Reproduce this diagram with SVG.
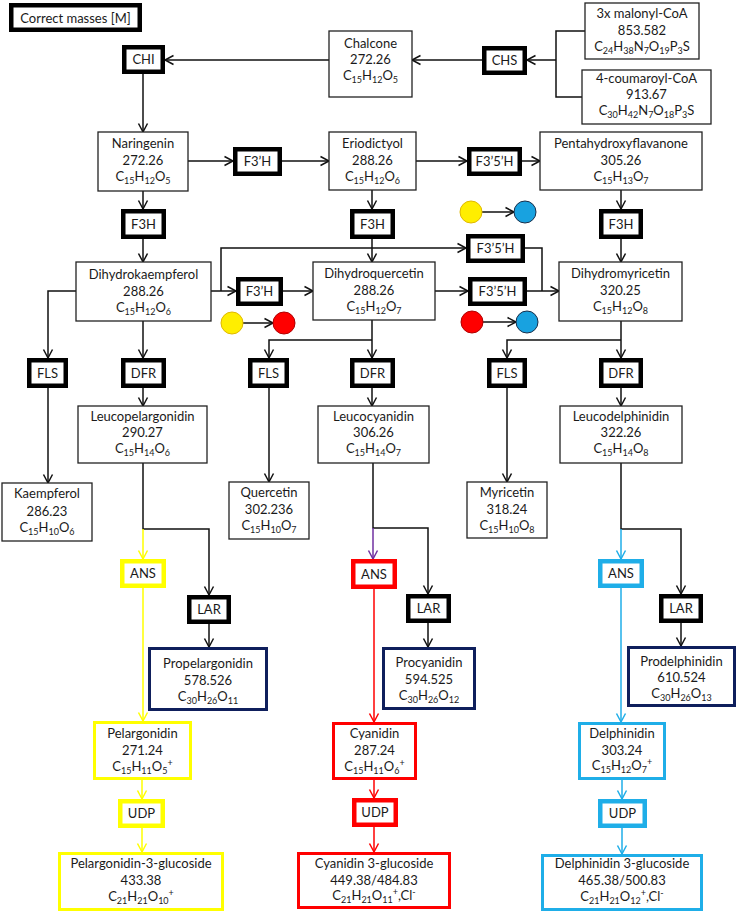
<svg xmlns="http://www.w3.org/2000/svg" width="738" height="914" viewBox="0 0 738 914">
<style>
.box{fill:#fff;stroke:#222;stroke-width:1.3}
.enz{fill:#fff;stroke:#000;stroke-width:4.5}
.t{font-family:Lato,"Open Sans",sans-serif;font-size:13px;fill:#1a1a1a;text-anchor:middle}
.s{font-size:9px}
.c{fill:none;stroke:#111;stroke-width:1.5}
.cy{fill:none;stroke:#FFFF00;stroke-width:1.5}
.cr{fill:none;stroke:#FF0000;stroke-width:1.5}
.cb{fill:none;stroke:#1FAEE8;stroke-width:1.5}
.cp{fill:none;stroke:#7030A0;stroke-width:1.5}
.yb{fill:#fff;stroke:#FFFF00}
.rb{fill:#fff;stroke:#FF0000}
.bb{fill:#fff;stroke:#1FAEE8}
.nb{fill:#fff;stroke:#0F1F5C;stroke-width:3}
.cyc{fill:#FFEE00;stroke:#E0B800;stroke-width:1}
.crc{fill:#FF0000;stroke:#B00000;stroke-width:1}
.cbc{fill:#18A2E0;stroke:#1A2F4A;stroke-width:1}
</style>
<defs>
<marker id="ak" markerWidth="12" markerHeight="12" refX="10" refY="6" orient="auto" markerUnits="userSpaceOnUse"><path d="M1.5,1.5 L10,6 L1.5,10.5" fill="none" stroke="#111" stroke-width="1.5"/></marker>
<marker id="ay" markerWidth="12" markerHeight="12" refX="10" refY="6" orient="auto" markerUnits="userSpaceOnUse"><path d="M1.5,1.5 L10,6 L1.5,10.5" fill="none" stroke="#FFFF00" stroke-width="1.5"/></marker>
<marker id="ar" markerWidth="12" markerHeight="12" refX="10" refY="6" orient="auto" markerUnits="userSpaceOnUse"><path d="M1.5,1.5 L10,6 L1.5,10.5" fill="none" stroke="#FF0000" stroke-width="1.5"/></marker>
<marker id="ab" markerWidth="12" markerHeight="12" refX="10" refY="6" orient="auto" markerUnits="userSpaceOnUse"><path d="M1.5,1.5 L10,6 L1.5,10.5" fill="none" stroke="#1FAEE8" stroke-width="1.5"/></marker>
<marker id="ap" markerWidth="12" markerHeight="12" refX="10" refY="6" orient="auto" markerUnits="userSpaceOnUse"><path d="M1.5,1.5 L10,6 L1.5,10.5" fill="none" stroke="#7030A0" stroke-width="1.5"/></marker>
</defs>

<g id="connectors">
<path class="c" d="M329,60 H165" marker-end="url(#ak)"/>
<path class="c" d="M482,60 H412" marker-end="url(#ak)"/>
<path class="c" d="M585,31 H556 V97 H582"/>
<path class="c" d="M556,60 H527" marker-end="url(#ak)"/>
<path class="c" d="M143,74 V132" marker-end="url(#ak)"/>
<path class="c" d="M188,161 H233" marker-end="url(#ak)"/>
<path class="c" d="M282,161 H329" marker-end="url(#ak)"/>
<path class="c" d="M416,161 H467" marker-end="url(#ak)"/>
<path class="c" d="M522,161 H540" marker-end="url(#ak)"/>
<path class="c" d="M143,191 V209" marker-end="url(#ak)"/>
<path class="c" d="M143,239 V262" marker-end="url(#ak)"/>
<path class="c" d="M372,190 V209" marker-end="url(#ak)"/>
<path class="c" d="M372,239 V262" marker-end="url(#ak)"/>
<path class="c" d="M621,190 V209" marker-end="url(#ak)"/>
<path class="c" d="M621,239 V262" marker-end="url(#ak)"/>
<path class="c" d="M211,291 H236" marker-end="url(#ak)"/>
<path class="c" d="M221,291 V248 H466" marker-end="url(#ak)"/>
<path class="c" d="M283,291 H313" marker-end="url(#ak)"/>
<path class="c" d="M435,291 H468" marker-end="url(#ak)"/>
<path class="c" d="M527,291 H559" marker-end="url(#ak)"/>
<path class="c" d="M525,248 H542 V291"/>
<path class="c" d="M76,291 H48 V358" marker-end="url(#ak)"/>
<path class="c" d="M143,321 V358" marker-end="url(#ak)"/>
<path class="c" d="M372,320 V358" marker-end="url(#ak)"/>
<path class="c" d="M372,340 H269 V358" marker-end="url(#ak)"/>
<path class="c" d="M621,321 V358" marker-end="url(#ak)"/>
<path class="c" d="M621,340 H507 V358" marker-end="url(#ak)"/>
<path class="c" d="M143,388 V406" marker-end="url(#ak)"/>
<path class="c" d="M372,388 V406" marker-end="url(#ak)"/>
<path class="c" d="M621,388 V406" marker-end="url(#ak)"/>
<path class="c" d="M48,388 V483" marker-end="url(#ak)"/>
<path class="c" d="M269,388 V482" marker-end="url(#ak)"/>
<path class="c" d="M507,388 V482" marker-end="url(#ak)"/>
<path class="c" d="M143,463 V529 H209 V595" marker-end="url(#ak)"/>
<path class="cy" d="M143,529 V559" marker-end="url(#ay)"/>
<path class="cy" d="M143,588 V721" marker-end="url(#ay)"/>
<path class="c" d="M209,624 V647" marker-end="url(#ak)"/>
<path class="cy" d="M142,780 V799" marker-end="url(#ay)"/>
<path class="cy" d="M142,828 V852" marker-end="url(#ay)"/>
<path class="c" d="M373,463 V528 H428 V594" marker-end="url(#ak)"/>
<path class="cp" d="M373,528 V559" marker-end="url(#ap)"/>
<path class="cr" d="M374,589 V722" marker-end="url(#ar)"/>
<path class="c" d="M428,623 V647" marker-end="url(#ak)"/>
<path class="cr" d="M374,780 V798" marker-end="url(#ar)"/>
<path class="cr" d="M374,827 V852" marker-end="url(#ar)"/>
<path class="c" d="M621,463 V529 H681 V594" marker-end="url(#ak)"/>
<path class="cb" d="M621,529 V559" marker-end="url(#ab)"/>
<path class="cb" d="M621,588 V722" marker-end="url(#ab)"/>
<path class="c" d="M681,623 V646" marker-end="url(#ak)"/>
<path class="cb" d="M622,780 V799" marker-end="url(#ab)"/>
<path class="cb" d="M622,828 V854" marker-end="url(#ab)"/>
<path class="c" d="M243,323 H273" marker-end="url(#ak)"/>
<path class="c" d="M482,212 H514" marker-end="url(#ak)"/>
<path class="c" d="M483,322 H516" marker-end="url(#ak)"/>
</g>

<g id="color-change">
<circle class="cyc" cx="232" cy="323" r="11"/>
<circle class="crc" cx="284" cy="323" r="11"/>
<circle class="cyc" cx="471" cy="212" r="11"/>
<circle class="cbc" cx="525" cy="212" r="11"/>
<circle class="crc" cx="472" cy="322" r="11"/>
<circle class="cbc" cx="527" cy="322" r="11"/>
</g>

<g id="legend"><rect class="enz" x="11.25" y="5.25" width="128.5" height="24.5"/><text class="t" x="75.5" y="22.5">Correct masses [M]</text></g>

<g id="chalcone"><rect class="box" x="329" y="31" width="83" height="66"/>
<text class="t" x="370.5" y="47.5">Chalcone</text><text class="t" x="370.5" y="63.5">272.26</text>
<text class="t" x="370.5" y="79.5">C<tspan class="s" dy="3">15</tspan><tspan dy="-3">H</tspan><tspan class="s" dy="3">12</tspan><tspan dy="-3">O</tspan><tspan class="s" dy="3">5</tspan></text></g>

<g id="malonyl"><rect class="box" x="585" y="3" width="114" height="56"/>
<text class="t" x="642" y="17.5">3x malonyl-CoA</text><text class="t" x="642" y="34.5">853.582</text>
<text class="t" x="642" y="51">C<tspan class="s" dy="3">24</tspan><tspan dy="-3">H</tspan><tspan class="s" dy="3">38</tspan><tspan dy="-3">N</tspan><tspan class="s" dy="3">7</tspan><tspan dy="-3">O</tspan><tspan class="s" dy="3">19</tspan><tspan dy="-3">P</tspan><tspan class="s" dy="3">3</tspan><tspan dy="-3">S</tspan></text></g>

<g id="coumaroyl"><rect class="box" x="582" y="70" width="129" height="54"/>
<text class="t" x="646.5" y="82.5">4-coumaroyl-CoA</text><text class="t" x="646.5" y="98.5">913.67</text>
<text class="t" x="646.5" y="115">C<tspan class="s" dy="3">30</tspan><tspan dy="-3">H</tspan><tspan class="s" dy="3">42</tspan><tspan dy="-3">N</tspan><tspan class="s" dy="3">7</tspan><tspan dy="-3">O</tspan><tspan class="s" dy="3">18</tspan><tspan dy="-3">P</tspan><tspan class="s" dy="3">3</tspan><tspan dy="-3">S</tspan></text></g>

<g id="chs"><rect class="enz" x="484.25" y="48.25" width="40.5" height="24.5"/><text class="t" x="504.5" y="65">CHS</text></g>
<g id="chi"><rect class="enz" x="124.25" y="47.25" width="38.5" height="24.5"/><text class="t" x="143.5" y="64">CHI</text></g>

<g id="naringenin"><rect class="box" x="98" y="132" width="90" height="59"/>
<text class="t" x="143" y="147.5">Naringenin</text><text class="t" x="143" y="164.5">272.26</text>
<text class="t" x="143" y="181">C<tspan class="s" dy="3">15</tspan><tspan dy="-3">H</tspan><tspan class="s" dy="3">12</tspan><tspan dy="-3">O</tspan><tspan class="s" dy="3">5</tspan></text></g>

<g id="f3h-1"><rect class="enz" x="235.25" y="149.25" width="44.5" height="24.5"/><text class="t" x="257.5" y="166">F3’H</text></g>

<g id="eriodictyol"><rect class="box" x="329" y="132" width="87" height="58"/>
<text class="t" x="372.5" y="147.5">Eriodictyol</text><text class="t" x="372.5" y="164.5">288.26</text>
<text class="t" x="372.5" y="181">C<tspan class="s" dy="3">15</tspan><tspan dy="-3">H</tspan><tspan class="s" dy="3">12</tspan><tspan dy="-3">O</tspan><tspan class="s" dy="3">6</tspan></text></g>

<g id="f35h-1"><rect class="enz" x="469.25" y="149.25" width="50.5" height="24.5"/><text class="t" x="494.5" y="166">F3’5’H</text></g>

<g id="pentahydroxyflavanone"><rect class="box" x="540" y="132" width="162" height="58"/>
<text class="t" x="621" y="148">Pentahydroxyflavanone</text><text class="t" x="621" y="164.5">305.26</text>
<text class="t" x="621" y="181">C<tspan class="s" dy="3">15</tspan><tspan dy="-3">H</tspan><tspan class="s" dy="3">13</tspan><tspan dy="-3">O</tspan><tspan class="s" dy="3">7</tspan></text></g>

<g id="f3h-l"><rect class="enz" x="123.25" y="211.25" width="40.5" height="25.5"/><text class="t" x="143.5" y="228.5">F3H</text></g>
<g id="f3h-m"><rect class="enz" x="352.25" y="211.25" width="40.5" height="25.5"/><text class="t" x="372.5" y="228.5">F3H</text></g>
<g id="f3h-r"><rect class="enz" x="601.25" y="211.25" width="39.5" height="25.5"/><text class="t" x="621" y="228.5">F3H</text></g>

<g id="dihydrokaempferol"><rect class="box" x="76" y="262" width="135" height="59"/>
<text class="t" x="143.5" y="278.5">Dihydrokaempferol</text><text class="t" x="143.5" y="295.5">288.26</text>
<text class="t" x="143.5" y="312">C<tspan class="s" dy="3">15</tspan><tspan dy="-3">H</tspan><tspan class="s" dy="3">12</tspan><tspan dy="-3">O</tspan><tspan class="s" dy="3">6</tspan></text></g>

<g id="f3h-2"><rect class="enz" x="238.25" y="279.25" width="42.5" height="24.5"/><text class="t" x="259.5" y="296">F3’H</text></g>

<g id="dihydroquercetin"><rect class="box" x="313" y="262" width="122" height="58"/>
<text class="t" x="374" y="277.5">Dihydroquercetin</text><text class="t" x="374" y="294.5">288.26</text>
<text class="t" x="374" y="311">C<tspan class="s" dy="3">15</tspan><tspan dy="-3">H</tspan><tspan class="s" dy="3">12</tspan><tspan dy="-3">O</tspan><tspan class="s" dy="3">7</tspan></text></g>

<g id="f35h-2"><rect class="enz" x="468.25" y="236.25" width="54.5" height="24.5"/><text class="t" x="495.5" y="253">F3’5’H</text></g>
<g id="f35h-3"><rect class="enz" x="470.25" y="279.25" width="54.5" height="24.5"/><text class="t" x="497.5" y="296">F3’5’H</text></g>

<g id="dihydromyricetin"><rect class="box" x="559" y="262" width="123" height="59"/>
<text class="t" x="620.5" y="277.5">Dihydromyricetin</text><text class="t" x="620.5" y="294.5">320.25</text>
<text class="t" x="620.5" y="311">C<tspan class="s" dy="3">15</tspan><tspan dy="-3">H</tspan><tspan class="s" dy="3">12</tspan><tspan dy="-3">O</tspan><tspan class="s" dy="3">8</tspan></text></g>

<g id="fls-l"><rect class="enz" x="29.25" y="360.25" width="36.5" height="25.5"/><text class="t" x="47.5" y="377.5">FLS</text></g>
<g id="dfr-l"><rect class="enz" x="123.25" y="360.25" width="40.5" height="25.5"/><text class="t" x="143.5" y="377.5">DFR</text></g>
<g id="fls-m"><rect class="enz" x="250.25" y="360.25" width="36.5" height="25.5"/><text class="t" x="268.5" y="377.5">FLS</text></g>
<g id="dfr-m"><rect class="enz" x="352.25" y="360.25" width="40.5" height="25.5"/><text class="t" x="372.5" y="377.5">DFR</text></g>
<g id="fls-r"><rect class="enz" x="489.25" y="360.25" width="35.5" height="25.5"/><text class="t" x="507" y="377.5">FLS</text></g>
<g id="dfr-r"><rect class="enz" x="601.25" y="360.25" width="39.5" height="25.5"/><text class="t" x="621" y="377.5">DFR</text></g>

<g id="leucopelargonidin"><rect class="box" x="78" y="406" width="129" height="57"/>
<text class="t" x="142.5" y="420.5">Leucopelargonidin</text><text class="t" x="142.5" y="436.5">290.27</text>
<text class="t" x="142.5" y="453">C<tspan class="s" dy="3">15</tspan><tspan dy="-3">H</tspan><tspan class="s" dy="3">14</tspan><tspan dy="-3">O</tspan><tspan class="s" dy="3">6</tspan></text></g>

<g id="leucocyanidin"><rect class="box" x="318" y="406" width="111" height="57"/>
<text class="t" x="373.5" y="420.5">Leucocyanidin</text><text class="t" x="373.5" y="436.5">306.26</text>
<text class="t" x="373.5" y="453">C<tspan class="s" dy="3">15</tspan><tspan dy="-3">H</tspan><tspan class="s" dy="3">14</tspan><tspan dy="-3">O</tspan><tspan class="s" dy="3">7</tspan></text></g>

<g id="leucodelphinidin"><rect class="box" x="560" y="406" width="122" height="57"/>
<text class="t" x="621" y="420.5">Leucodelphinidin</text><text class="t" x="621" y="436.5">322.26</text>
<text class="t" x="621" y="453">C<tspan class="s" dy="3">15</tspan><tspan dy="-3">H</tspan><tspan class="s" dy="3">14</tspan><tspan dy="-3">O</tspan><tspan class="s" dy="3">8</tspan></text></g>

<g id="kaempferol"><rect class="box" x="2" y="483" width="90" height="58"/>
<text class="t" x="47" y="497.5">Kaempferol</text><text class="t" x="47" y="515.5">286.23</text>
<text class="t" x="47" y="532">C<tspan class="s" dy="3">15</tspan><tspan dy="-3">H</tspan><tspan class="s" dy="3">10</tspan><tspan dy="-3">O</tspan><tspan class="s" dy="3">6</tspan></text></g>

<g id="quercetin"><rect class="box" x="229" y="482" width="80" height="57"/>
<text class="t" x="269" y="496.5">Quercetin</text><text class="t" x="269" y="513.5">302.236</text>
<text class="t" x="269" y="530">C<tspan class="s" dy="3">15</tspan><tspan dy="-3">H</tspan><tspan class="s" dy="3">10</tspan><tspan dy="-3">O</tspan><tspan class="s" dy="3">7</tspan></text></g>

<g id="myricetin"><rect class="box" x="467" y="482" width="80" height="56"/>
<text class="t" x="507" y="496.5">Myricetin</text><text class="t" x="507" y="513.5">318.24</text>
<text class="t" x="507" y="530">C<tspan class="s" dy="3">15</tspan><tspan dy="-3">H</tspan><tspan class="s" dy="3">10</tspan><tspan dy="-3">O</tspan><tspan class="s" dy="3">8</tspan></text></g>

<g id="ans-y"><rect class="yb" stroke-width="4.5" x="122.25" y="561.25" width="41.5" height="24.5"/><text class="t" x="143" y="578">ANS</text></g>
<g id="ans-r"><rect class="rb" stroke-width="4.5" x="353.25" y="561.25" width="41.5" height="25.5"/><text class="t" x="374" y="578.5">ANS</text></g>
<g id="ans-b"><rect class="bb" stroke-width="4.5" x="600.25" y="561.25" width="41.5" height="24.5"/><text class="t" x="621" y="578">ANS</text></g>

<g id="lar-l"><rect class="enz" x="189.25" y="597.25" width="39.5" height="24.5"/><text class="t" x="209" y="614">LAR</text></g>
<g id="lar-m"><rect class="enz" x="408.25" y="596.25" width="40.5" height="24.5"/><text class="t" x="428.5" y="613">LAR</text></g>
<g id="lar-r"><rect class="enz" x="661.25" y="596.25" width="39.5" height="24.5"/><text class="t" x="681" y="613">LAR</text></g>

<g id="propelargonidin"><rect class="nb" x="149.5" y="648.5" width="117" height="61"/>
<text class="t" x="208" y="667.5">Propelargonidin</text><text class="t" x="208" y="684.5">578.526</text>
<text class="t" x="208" y="701">C<tspan class="s" dy="3">30</tspan><tspan dy="-3">H</tspan><tspan class="s" dy="3">26</tspan><tspan dy="-3">O</tspan><tspan class="s" dy="3">11</tspan></text></g>

<g id="procyanidin"><rect class="nb" x="383.5" y="648.5" width="91" height="60"/>
<text class="t" x="429" y="666.5">Procyanidin</text><text class="t" x="429" y="683.5">594.525</text>
<text class="t" x="429" y="700">C<tspan class="s" dy="3">30</tspan><tspan dy="-3">H</tspan><tspan class="s" dy="3">26</tspan><tspan dy="-3">O</tspan><tspan class="s" dy="3">12</tspan></text></g>

<g id="prodelphinidin"><rect class="nb" x="628.5" y="647.5" width="106" height="58"/>
<text class="t" x="681.5" y="665.5">Prodelphinidin</text><text class="t" x="681.5" y="681.5">610.524</text>
<text class="t" x="681.5" y="698">C<tspan class="s" dy="3">30</tspan><tspan dy="-3">H</tspan><tspan class="s" dy="3">26</tspan><tspan dy="-3">O</tspan><tspan class="s" dy="3">13</tspan></text></g>

<g id="pelargonidin"><rect class="yb" stroke-width="3" x="94.5" y="722.5" width="96" height="56"/>
<text class="t" x="142.5" y="737.5">Pelargonidin</text><text class="t" x="142.5" y="754.5">271.24</text>
<text class="t" x="142.5" y="771">C<tspan class="s" dy="3">15</tspan><tspan dy="-3">H</tspan><tspan class="s" dy="3">11</tspan><tspan dy="-3">O</tspan><tspan class="s" dy="3">5</tspan><tspan class="s" dy="-8">+</tspan></text></g>

<g id="cyanidin"><rect class="rb" stroke-width="3" x="333.5" y="723.5" width="82" height="55"/>
<text class="t" x="374.5" y="737.5">Cyanidin</text><text class="t" x="374.5" y="754.5">287.24</text>
<text class="t" x="374.5" y="770.5">C<tspan class="s" dy="3">15</tspan><tspan dy="-3">H</tspan><tspan class="s" dy="3">11</tspan><tspan dy="-3">O</tspan><tspan class="s" dy="3">6</tspan><tspan class="s" dy="-8">+</tspan></text></g>

<g id="delphinidin"><rect class="bb" stroke-width="3" x="579.5" y="723.5" width="85" height="55"/>
<text class="t" x="622" y="737.5">Delphinidin</text><text class="t" x="622" y="754.5">303.24</text>
<text class="t" x="622" y="770">C<tspan class="s" dy="3">15</tspan><tspan dy="-3">H</tspan><tspan class="s" dy="3">12</tspan><tspan dy="-3">O</tspan><tspan class="s" dy="3">7</tspan><tspan class="s" dy="-8">+</tspan></text></g>

<g id="udp-y"><rect class="yb" stroke-width="4.5" x="120.25" y="801.25" width="42.5" height="24.5"/><text class="t" x="141.5" y="818">UDP</text></g>
<g id="udp-r"><rect class="rb" stroke-width="4.5" x="354.25" y="800.25" width="41.5" height="24.5"/><text class="t" x="375" y="817">UDP</text></g>
<g id="udp-b"><rect class="bb" stroke-width="4.5" x="600.25" y="801.25" width="44.5" height="24.5"/><text class="t" x="622.5" y="818">UDP</text></g>

<g id="pelargonidin-3-glucoside"><rect class="yb" stroke-width="3" x="59.5" y="853.5" width="163" height="56"/>
<text class="t" x="141" y="867.5">Pelargonidin-3-glucoside</text><text class="t" x="141" y="884.5">433.38</text>
<text class="t" x="141" y="901">C<tspan class="s" dy="3">21</tspan><tspan dy="-3">H</tspan><tspan class="s" dy="3">21</tspan><tspan dy="-3">O</tspan><tspan class="s" dy="3">10</tspan><tspan class="s" dy="-8">+</tspan></text></g>

<g id="cyanidin-3-glucoside"><rect class="rb" stroke-width="3" x="298.5" y="853.5" width="151" height="54"/>
<text class="t" x="374" y="867.5">Cyanidin 3-glucoside</text><text class="t" x="374" y="884.5">449.38/484.83</text>
<text class="t" x="374" y="900">C<tspan class="s" dy="3">21</tspan><tspan dy="-3">H</tspan><tspan class="s" dy="3">21</tspan><tspan dy="-3">O</tspan><tspan class="s" dy="3">11</tspan><tspan class="s" dy="-8">+</tspan><tspan dy="5">,Cl</tspan><tspan class="s" dy="-5">-</tspan></text></g>

<g id="delphinidin-3-glucoside"><rect class="bb" stroke-width="3" x="542.5" y="855.5" width="159" height="54"/>
<text class="t" x="622" y="867.5">Delphinidin 3-glucoside</text><text class="t" x="622" y="884.5">465.38/500.83</text>
<text class="t" x="622" y="901">C<tspan class="s" dy="3">21</tspan><tspan dy="-3">H</tspan><tspan class="s" dy="3">21</tspan><tspan dy="-3">O</tspan><tspan class="s" dy="3">12</tspan><tspan class="s" dy="-8">+</tspan><tspan dy="5">,Cl</tspan><tspan class="s" dy="-5">-</tspan></text></g>
</svg>
